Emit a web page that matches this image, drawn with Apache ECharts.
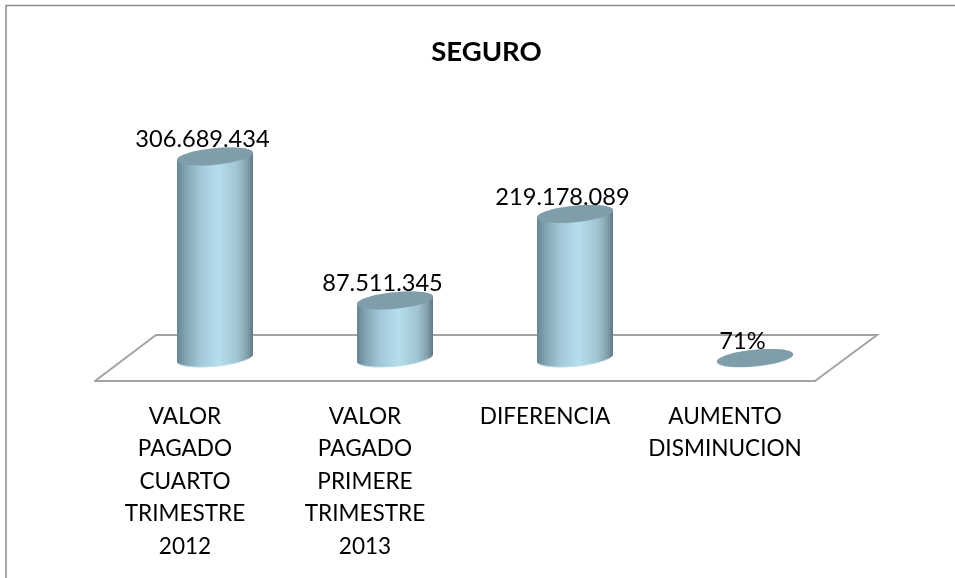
<!DOCTYPE html>
<html>
<head>
<meta charset="utf-8">
<style>
    html, body { margin: 0; padding: 0; background: #fff; }
    #chart { width: 955px; height: 578px; }
</style>
<script src="https://cdn.jsdelivr.net/npm/echarts@6/dist/echarts.min.js"></script>
</head>
<body>
<div id="chart"></div>
<script>
var categories = [
    'VALOR\nPAGADO\nCUARTO\nTRIMESTRE\n2012',
    'VALOR\nPAGADO\nPRIMERE\nTRIMESTRE\n2013',
    'DIFERENCIA',
    'AUMENTO\nDISMINUCION'
];
var values = [306689434, 87511345, 219178089, 0.71];
var valueLabels = ['306.689.434', '87.511.345', '219.178.089', '71%'];

// floor depth, the cylinders stand in the middle of it
var depthX = 30, depthY = 23;
var radius = 38;

function ellipsePoints(cx, cy, from, to) {
    var pts = [];
    for (var i = 0; i <= 48; i++) {
        var t = from + (to - from) * i / 48;
        pts.push([cx + radius * Math.cos(t), cy - 3.6 * Math.cos(t) + 8.3 * Math.sin(t)]);
    }
    return pts;
}

function renderCylinder(params, api) {
    var base = api.coord([api.value(0), 0]);
    var top = api.coord([api.value(0), api.value(1)]);
    var cx = base[0] + depthX;
    var baseY = base[1] - depthY;
    var topY = top[1] - depthY;

    var body = ellipsePoints(cx, baseY, 0, Math.PI).concat(ellipsePoints(cx, topY, Math.PI, 2 * Math.PI));
    return {
        type: 'group',
        children: [
            {
                type: 'polygon',
                shape: { points: body },
                style: {
                    fill: new echarts.graphic.LinearGradient(0, 0, 1, 0, [
                        { offset: 0, color: '#668592' },
                        { offset: 0.12, color: '#84a6b4' },
                        { offset: 0.3, color: '#a2c7d6' },
                        { offset: 0.55, color: '#b6deec' },
                        { offset: 0.8, color: '#a0c3d0' },
                        { offset: 0.92, color: '#83a2ae' },
                        { offset: 1, color: '#607984' }
                    ])
                }
            },
            {
                type: 'polyline',
                shape: { points: ellipsePoints(cx, baseY, 0.5, Math.PI - 0.3) },
                style: { fill: null, stroke: '#b9dfec', lineWidth: 1 }
            },
            {
                type: 'polygon',
                shape: { points: ellipsePoints(cx, topY, 0, 2 * Math.PI) },
                style: { fill: '#7f9ea9' }
            },
            {
                type: 'text',
                z2: 10,
                style: {
                    text: valueLabels[params.dataIndex],
                    x: cx - 12.5,
                    y: topY - 17,
                    align: 'center',
                    verticalAlign: 'middle',
                    font: '23.6px Lato',
                    fill: '#000'
                }
            }
        ]
    };
}

// only the back and side edges, the front edge is the category axis line
function renderFloor(params, api) {
    var left = api.coord([0, 0]);
    var band = api.size([1, 0])[0];
    var x0 = left[0] - band / 2;
    var x1 = x0 + band * categories.length;
    var y = left[1];
    return {
        type: 'polyline',
        shape: {
            points: [
                [x0, y],
                [x0 + 61, y - depthY * 2],
                [x1 + 62, y - depthY * 2],
                [x1, y]
            ]
        },
        style: { fill: null, stroke: '#a3a3a3', lineWidth: 2 }
    };
}

var chart = echarts.init(document.getElementById('chart'));
chart.setOption({
    animation: false,
    title: {
        text: 'SEGURO',
        left: 481.5,
        top: 33,
        textAlign: 'center',
        textStyle: { fontFamily: 'Lato', fontSize: 27.5, fontWeight: 'bold', color: '#000' }
    },
    grid: { left: 95, width: 720, top: 151, height: 230 },
    xAxis: {
        type: 'category',
        data: categories,
        axisLine: { show: true, lineStyle: { color: '#a3a3a3', width: 2 } },
        axisTick: { show: false },
        axisLabel: {
            interval: 0,
            margin: 19,
            fontFamily: 'Lato',
            fontSize: 22.6,
            lineHeight: 32.5,
            color: '#000'
        }
    },
    yAxis: { type: 'value', min: 0, max: 350000000, show: false },
    graphic: [
        {
            type: 'polyline',
            shape: { points: [[6, 578], [6, 5.5], [955, 5.5]] },
            style: { fill: null, stroke: '#8c8c8c', lineWidth: 1.5 }
        }
    ],
    series: [
        {
            type: 'custom',
            z: 1,
            renderItem: renderFloor,
            data: [[0, 0]],
            silent: true
        },
        {
            type: 'custom',
            z: 2,
            renderItem: renderCylinder,
            encode: { x: 0, y: 1 },
            data: values.map(function(v, i) { return [i, v]; })
        }
    ]
});
</script>
</body>
</html>
